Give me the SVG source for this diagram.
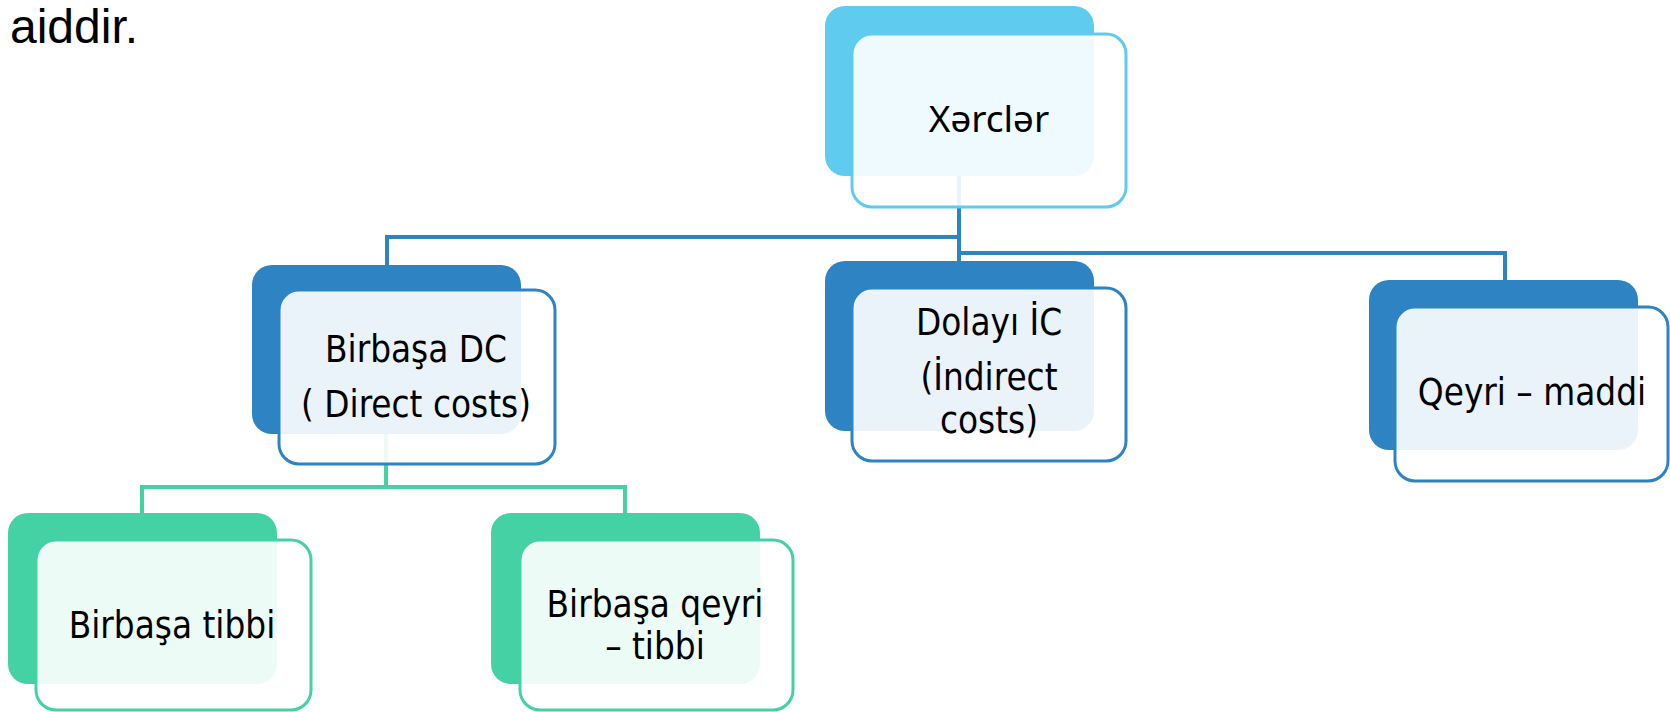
<svg xmlns="http://www.w3.org/2000/svg" width="1670" height="712" viewBox="0 0 1670 712">
<style>
.lbl{font-family:"DejaVu Sans Condensed","DejaVu Sans",sans-serif;font-stretch:condensed;font-size:36.5px;fill:#000;text-anchor:middle}
.ttl{font-family:"Noto Sans",sans-serif;font-size:37px;fill:#000;text-anchor:middle}
.front{fill:#fff;fill-opacity:0.9;stroke-width:3}
.cb{fill:none;stroke:#2E83C3;stroke-width:4}
.cg{fill:none;stroke:#44D1A3;stroke-width:4}
</style>
<rect width="1670" height="712" fill="#fff"/>
<text x="10" y="43" font-family="Liberation Sans, Arial, sans-serif" font-size="48" fill="#000">aiddir.</text>
<g id="connectors">
<path class="cb" d="M959,176 V237 H387 V265"/>
<path class="cb" d="M959,176 V261"/>
<path class="cb" d="M959,176 V253 H1505 V280"/>
<path class="cg" d="M386,434 V487 H142 V513"/>
<path class="cg" d="M386,434 V487 H625 V513"/>
</g>
<g id="node-xerclar">
<rect x="825" y="6" width="269" height="170" rx="20" fill="#5FCBEE"/>
<rect class="front" x="852" y="34" width="274" height="173" rx="20" stroke="#5FCBEE"/>
<text class="ttl" x="989" y="132">Xərclər</text>
</g>
<g id="node-birbasa-dc">
<rect x="252" y="265" width="269" height="169" rx="20" fill="#2E83C3"/>
<rect class="front" x="279" y="290" width="276" height="174" rx="20" stroke="#2E83C3"/>
<text class="lbl" x="416" y="362">Birbaşa DC</text>
<text class="lbl" x="416" y="417">( Direct costs)</text>
</g>
<g id="node-dolayi">
<rect x="825" y="261" width="269" height="170" rx="20" fill="#2E83C3"/>
<rect class="front" x="852" y="288" width="274" height="173" rx="20" stroke="#2E83C3"/>
<text class="lbl" x="989" y="335">Dolayı İC</text>
<text class="lbl" x="989" y="390">(İndirect</text>
<text class="lbl" x="989" y="433">costs)</text>
</g>
<g id="node-qeyri-maddi">
<rect x="1369" y="280" width="269" height="170" rx="20" fill="#2E83C3"/>
<rect class="front" x="1395" y="307" width="273" height="174" rx="20" stroke="#2E83C3"/>
<text class="lbl" x="1532" y="405">Qeyri – maddi</text>
</g>
<g id="node-birbasa-tibbi">
<rect x="8" y="513" width="269" height="171" rx="20" fill="#44D1A3"/>
<rect class="front" x="36" y="540" width="275" height="170" rx="20" stroke="#44D1A3"/>
<text class="lbl" x="172" y="638">Birbaşa tibbi</text>
</g>
<g id="node-birbasa-qeyri-tibbi">
<rect x="491" y="513" width="269" height="171" rx="20" fill="#44D1A3"/>
<rect class="front" x="520" y="540" width="273" height="170" rx="20" stroke="#44D1A3"/>
<text class="lbl" x="655" y="617">Birbaşa qeyri</text>
<text class="lbl" x="655" y="659">– tibbi</text>
</g>
</svg>
